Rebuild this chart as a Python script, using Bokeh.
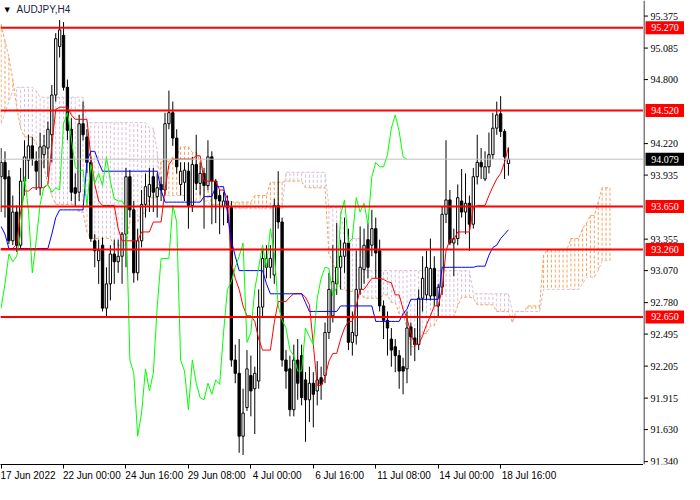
from bokeh.plotting import figure
from bokeh.layouts import row
from bokeh.models import Span, Label, FixedTicker
from bokeh.embed import file_html
from bokeh.resources import INLINE

# time axis: bar index of each label (H4 bars, weekends removed)
time_ticks = [0, 16, 32, 48, 64, 80, 96, 112, 128]
time_labels = ["17 Jun 2022", "22 Jun 00:00", "24 Jun 16:00", "29 Jun 08:00", "4 Jul 00:00",
               "6 Jul 16:00", "11 Jul 08:00", "14 Jul 00:00", "18 Jul 16:00"]
price_ticks = [91.340, 91.630, 91.915, 92.205, 92.495, 92.780, 93.070, 93.355,
               93.935, 94.220, 94.800, 95.085, 95.375]
levels = [95.270, 94.520, 93.650, 93.260, 92.650]
last_price = 94.079

opens = [
    93.92, 94.05, 93.92, 93.34, 93.60, 93.30, 93.88, 94.07, 94.20, 94.06,
    93.82, 94.12, 94.18, 94.30, 94.66, 95.10, 95.20, 94.73, 94.35, 93.82,
    93.78, 94.40, 94.28, 94.05, 93.34, 93.16, 93.30, 92.73, 92.95, 93.22,
    93.15, 93.20, 93.40, 93.92, 93.62, 93.05, 93.34, 93.67, 93.74, 93.92,
    93.74, 93.85, 93.80, 94.40, 94.50, 94.27, 93.85, 93.87, 93.97, 93.66,
    94.03, 93.86, 93.95, 93.84, 94.10, 93.88, 93.75, 93.65, 93.70, 93.64,
    92.26, 92.14, 91.57, 91.83, 92.12, 92.00, 92.07, 92.74, 93.10, 93.10,
    93.03, 93.66, 93.51, 92.26, 92.18, 91.81, 92.26, 92.30, 92.08, 91.90,
    92.05, 91.98, 92.10, 92.12, 92.51, 92.66, 92.95, 93.10, 93.20, 93.32,
    92.42, 92.48, 92.90, 93.08, 93.35, 93.30, 93.45, 93.25, 92.75, 92.62,
    92.45, 92.38, 92.30, 92.20, 92.18, 92.56, 92.46, 92.40, 92.82, 92.85,
    92.84, 93.09, 92.75, 92.92, 93.58, 93.71, 93.32, 93.36, 93.70, 93.60,
    93.68, 93.49, 93.92, 94.05, 93.90, 94.01, 94.12, 94.36, 94.49, 94.33,
    94.04]
highs = [
    94.18, 94.15, 93.98, 93.75, 93.66, 94.00, 94.25, 94.30, 94.28, 94.15,
    94.32, 94.30, 94.42, 94.75, 95.22, 95.34, 95.32, 94.80, 94.45, 93.95,
    94.48, 94.60, 94.35, 94.10, 93.40, 93.35, 93.37, 93.10, 93.30, 93.35,
    93.35, 93.42, 94.00, 93.98, 93.70, 93.45, 93.80, 93.95, 94.00, 94.00,
    93.95, 93.92, 94.50, 94.70, 94.60, 94.35, 94.05, 94.05, 94.05, 94.10,
    94.30, 94.05, 94.00, 94.25, 94.15, 93.90, 93.80, 93.78, 93.75, 93.70,
    92.40, 92.45, 92.00, 92.35, 92.30, 92.20, 92.90, 93.25, 93.30, 93.30,
    93.72, 93.97, 93.55, 92.35, 92.30, 92.40, 92.45, 92.40, 92.15, 92.20,
    92.15, 92.25, 92.20, 92.60, 93.05, 93.30, 93.50, 93.35, 93.55, 93.45,
    92.70, 93.25, 93.47, 93.45, 93.50, 93.62, 93.55, 93.35, 92.80, 92.70,
    92.55, 92.45, 92.35, 92.28, 92.70, 92.60, 92.55, 92.90, 93.20, 93.25,
    93.36, 93.20, 92.95, 93.65, 94.25, 93.80, 93.45, 93.85, 93.99, 93.95,
    93.75, 94.00, 94.30, 94.18, 94.15, 94.32, 94.50, 94.60, 94.65, 94.35,
    94.18]
lows = [
    93.60, 93.55, 93.31, 93.30, 93.24, 93.26, 93.75, 93.90, 94.02, 93.80,
    93.75, 94.00, 93.92, 94.05, 94.60, 95.00, 94.70, 94.25, 93.70, 93.65,
    93.70, 94.25, 93.95, 93.33, 93.10, 92.95, 92.70, 92.64, 92.80, 92.95,
    93.05, 92.95, 93.10, 93.55, 92.96, 92.98, 93.28, 93.55, 93.60, 93.60,
    93.55, 93.70, 93.75, 94.35, 94.20, 93.95, 93.75, 93.70, 93.45, 93.60,
    93.80, 93.75, 93.45, 93.80, 93.49, 93.50, 93.40, 93.48, 93.50, 92.20,
    92.05, 91.42, 91.40, 91.80, 91.75, 91.59, 92.00, 92.65, 93.00, 93.00,
    92.95, 93.45, 92.20, 92.00, 91.75, 91.75, 91.90, 91.85, 91.52, 91.70,
    91.65, 91.85, 91.90, 92.05, 92.45, 92.60, 92.85, 92.90, 93.05, 92.35,
    92.30, 92.40, 92.85, 92.95, 93.00, 93.20, 93.00, 92.70, 92.45, 92.30,
    92.20, 92.15, 92.00, 91.95, 92.05, 92.30, 92.25, 92.35, 92.70, 92.80,
    92.80, 92.75, 92.65, 92.85, 93.50, 93.30, 93.02, 93.30, 93.55, 93.40,
    93.25, 93.45, 93.85, 93.90, 93.88, 93.95, 94.08, 94.30, 94.28, 93.90,
    93.93]
closes = [
    94.05, 93.90, 93.34, 93.60, 93.30, 93.88, 94.10, 94.20, 94.08, 93.97,
    94.19, 94.20, 94.35, 94.66, 95.17, 95.25, 94.73, 94.34, 93.78, 93.77,
    94.40, 94.30, 94.05, 93.36, 93.25, 93.25, 92.73, 92.95, 93.22, 93.15,
    93.20, 93.40, 93.92, 93.62, 93.05, 93.34, 93.67, 93.83, 93.85, 93.78,
    93.82, 93.80, 94.40, 94.50, 94.27, 94.01, 93.97, 93.98, 93.66, 94.03,
    93.86, 93.95, 93.84, 94.10, 93.88, 93.72, 93.70, 93.70, 93.64, 92.26,
    92.14, 91.57, 91.78, 92.18, 91.98, 92.14, 92.74, 93.18, 93.18, 93.18,
    93.66, 93.51, 92.26, 92.16, 91.81, 92.26, 92.05, 91.92, 91.90, 92.05,
    91.95, 92.08, 92.04, 92.51, 92.90, 92.97, 93.10, 93.20, 93.32, 92.42,
    92.51, 92.90, 93.10, 93.30, 93.10, 93.45, 93.23, 92.75, 92.62, 92.55,
    92.35, 92.30, 92.16, 92.16, 92.55, 92.47, 92.40, 92.82, 93.00, 93.10,
    93.09, 92.84, 92.92, 93.58, 93.71, 93.32, 93.36, 93.73, 93.60, 93.68,
    93.49, 93.92, 94.05, 94.01, 94.01, 94.12, 94.36, 94.48, 94.33, 94.10,
    94.079]

# Ichimoku lines
tenkan = [
    93.27, 93.27, 93.27, 93.27, 93.31, 93.60, 93.79, 93.79, 93.82, 93.82,
    93.82, 93.82, 93.85, 94.20, 94.53, 94.55, 94.55, 94.55, 94.48, 94.44,
    94.44, 94.44, 94.44, 94.10, 93.85, 93.70, 93.66, 93.66, 93.66, 93.66,
    93.45, 93.34, 93.34, 93.34, 93.34, 93.34, 93.42, 93.42, 93.42, 93.51,
    93.51, 93.51, 93.80, 94.03, 94.08, 94.08, 94.08, 94.08, 94.08, 94.08,
    94.11, 94.11, 93.88, 93.88, 93.88, 93.88, 93.80, 93.80, 93.72, 93.14,
    93.00, 92.90, 92.75, 92.66, 92.66, 92.61, 92.45, 92.35, 92.35, 92.35,
    92.60, 92.79, 92.79, 92.79, 92.83, 92.86, 92.86, 92.86, 92.83, 92.76,
    92.40, 92.03, 92.03, 92.10, 92.25, 92.32, 92.32, 92.45, 92.55, 92.61,
    92.61, 92.75, 92.90, 92.90, 92.95, 93.00, 93.00, 93.00, 92.99, 92.97,
    92.96, 92.85, 92.85, 92.72, 92.64, 92.50, 92.40, 92.40, 92.48, 92.58,
    92.66, 92.75, 92.75, 92.90, 93.25, 93.35, 93.35, 93.42, 93.42, 93.42,
    93.42, 93.64, 93.66, 93.66, 93.66, 93.75, 93.83, 93.90, 93.95, 94.05,
    94.19]
kijun = [
    93.47, 93.40, 93.27, 93.27, 93.27, 93.27, 93.27, 93.27, 93.27, 93.27,
    93.27, 93.27, 93.27, 93.40, 93.55, 93.62, 93.62, 93.62, 93.62, 93.62,
    93.62, 93.62, 94.06, 94.15, 94.15, 94.05, 93.97, 93.97, 93.97, 93.97,
    93.97, 93.97, 93.97, 93.97, 93.97, 93.97, 93.97, 93.97, 93.97, 93.97,
    93.97, 93.80, 93.69, 93.69, 93.69, 93.69, 93.69, 93.69, 93.69, 93.69,
    93.69, 93.69, 93.74, 93.74, 93.74, 93.83, 93.83, 93.83, 93.60, 93.34,
    93.20, 93.07, 93.07, 93.07, 93.07, 93.07, 93.07, 93.07, 92.95, 92.86,
    92.86, 92.86, 92.86, 92.86, 92.86, 92.86, 92.86, 92.86, 92.78, 92.70,
    92.70, 92.70, 92.70, 92.70, 92.70, 92.70, 92.70, 92.75, 92.75, 92.75,
    92.75, 92.75, 92.75, 92.75, 92.75, 92.75, 92.61, 92.61, 92.61, 92.61,
    92.61, 92.61, 92.61, 92.68, 92.72, 92.81, 92.81, 92.81, 92.81, 92.81,
    92.81, 92.81, 92.81, 93.10, 93.10, 93.10, 93.10, 93.10, 93.10, 93.10,
    93.10, 93.10, 93.11, 93.11, 93.11, 93.21, 93.28, 93.30, 93.36, 93.40,
    93.44]
span_a = [
    95.30, 95.15, 95.00, 94.80, 94.55, 94.36, 94.28, 94.28, 94.28, 94.22,
    94.15, 94.00, 93.85, 93.75, 93.67, 93.67, 93.67, 93.67, 93.67, 93.67,
    93.60, 93.60, 93.42, 93.36, 93.36, 93.36, 93.36, 93.36, 93.36, 93.30,
    93.30, 93.30, 93.30, 93.51, 93.51, 93.51, 93.59, 93.59, 93.73, 93.73,
    93.73, 94.06, 94.06, 94.06, 94.10, 94.10, 94.19, 94.19, 94.19, 94.14,
    94.14, 94.06, 93.95, 93.80, 93.67, 93.67, 93.67, 93.67, 93.67, 93.69,
    93.69, 93.69, 93.69, 93.69, 93.69, 93.75, 93.75, 93.75, 93.75, 93.87,
    93.87, 93.87, 93.87, 93.88, 93.88, 93.88, 93.88, 93.88, 93.82, 93.82,
    93.82, 93.82, 93.82, 93.82, 93.22, 93.15, 93.00, 92.90, 92.90, 92.88,
    92.88, 92.88, 92.88, 92.82, 92.82, 92.82, 92.82, 92.82, 92.85, 92.85,
    92.78, 92.78, 92.68, 92.68, 92.55, 92.38, 92.38, 92.45, 92.50, 92.50,
    92.57, 92.57, 92.65, 92.65, 92.65, 92.65, 92.65, 92.75, 92.83, 92.83,
    92.83, 92.82, 92.76, 92.76, 92.76, 92.76, 92.76, 92.70, 92.70, 92.70,
    92.70, 92.60, 92.70, 92.70, 92.70, 92.75, 92.75, 92.75, 92.75, 93.21,
    93.26, 93.26, 93.26, 93.26, 93.26, 93.26, 93.36, 93.36, 93.36, 93.45,
    93.50, 93.57, 93.57, 93.69, 93.82, 93.82, 93.82]
span_b = [
    94.40, 94.50, 94.60, 94.70, 94.73, 94.73, 94.73, 94.73, 94.73, 94.70,
    94.64, 94.64, 94.64, 94.64, 94.64, 94.64, 94.64, 94.64, 94.64, 94.64,
    94.64, 94.64, 94.41, 94.41, 94.41, 94.41, 94.41, 94.41, 94.41, 94.41,
    94.41, 94.41, 94.41, 94.41, 94.41, 94.41, 94.41, 94.41, 94.36, 94.36,
    94.15, 93.75, 93.75, 93.75, 93.75, 93.75, 93.75, 93.75, 93.75, 93.70,
    93.70, 93.70, 93.70, 93.70, 93.63, 93.63, 93.63, 93.63, 93.63, 93.63,
    93.63, 93.63, 93.63, 93.63, 93.63, 93.63, 93.63, 93.63, 93.63, 93.63,
    93.63, 93.63, 93.63, 93.96, 93.96, 93.96, 93.96, 93.96, 93.96, 93.96,
    93.96, 93.96, 93.96, 93.96, 93.64, 93.64, 93.64, 93.64, 93.36, 93.36,
    93.36, 93.36, 93.36, 93.07, 93.07, 93.07, 93.07, 93.07, 93.07, 93.07,
    93.07, 93.07, 93.07, 93.07, 93.07, 93.07, 93.07, 93.07, 93.07, 93.07,
    93.07, 93.07, 93.07, 93.07, 93.07, 93.07, 93.07, 93.07, 93.07, 93.07,
    93.07, 92.86, 92.86, 92.86, 92.86, 92.86, 92.86, 92.86, 92.86, 92.86,
    92.86, 92.70, 92.70, 92.70, 92.70, 92.70, 92.70, 92.70, 92.70, 92.90,
    92.90, 92.90, 92.90, 92.90, 92.90, 92.90, 92.90, 92.90, 92.90, 92.95,
    93.01, 93.01, 93.01, 93.07, 93.16, 93.16, 93.16]

FONT = "Liberation Sans"
SANDY = "#F4A460"
THISTLE = "#D8BFD8"
X0, X1 = -0.15, 164.6
Y0, Y1 = 91.314, 95.516
MAIN_W, SIDE_W, H, BOTTOM = 643, 41, 484, 20

p = figure(width=MAIN_W, height=H, x_range=(X0, X1), y_range=(Y0, Y1),
           y_axis_location=None, output_backend="svg", toolbar_location=None,
           min_border_left=0, min_border_top=0, min_border_right=0, min_border_bottom=BOTTOM)
p.background_fill_color = "white"
p.border_fill_color = "white"
p.outline_line_color = None
p.xgrid.visible = False
p.ygrid.visible = False

# Ichimoku cloud: dashed columns between span A and span B
cb = list(range(len(span_a)))
cloud_colors = [SANDY if a >= b else THISTLE for a, b in zip(span_a, span_b)]
p.segment(x0=cb, y0=span_a, x1=cb, y1=span_b, line_color=cloud_colors,
          line_dash="3 2", line_width=1)
p.line(cb, span_a, line_color=SANDY, line_dash="3 2", line_width=1)
p.line(cb, span_b, line_color=THISTLE, line_dash="3 2", line_width=1)

# candles
bars = list(range(len(closes)))
p.segment(x0=bars, y0=highs, x1=bars, y1=lows, line_color="black", line_width=1)
up = [i for i in bars if closes[i] >= opens[i]]
dn = [i for i in bars if closes[i] < opens[i]]
p.vbar(x=up, width=0.6, top=[closes[i] for i in up], bottom=[opens[i] for i in up],
       fill_color="white", line_color="black", line_width=1)
p.vbar(x=dn, width=0.6, top=[opens[i] for i in dn], bottom=[closes[i] for i in dn],
       fill_color="black", line_color="black", line_width=1)

# tenkan, kijun, chikou (close shifted 26 bars back)
p.line(bars, tenkan, line_color="#FF0000", line_width=1)
p.line(bars, kijun, line_color="#0000FF", line_width=1)
p.line(bars[:len(closes) - 26], closes[26:], line_color="#00FF00", line_width=1)

# levels and current price
p.add_layout(Span(location=last_price, dimension="width", line_color="#C0C0C0", line_width=1))
for lv in levels:
    p.add_layout(Span(location=lv, dimension="width", line_color="#FF0000", line_width=2))

# symbol caption
p.add_layout(Label(x=X0, y=Y1, x_offset=4, y_offset=-5, text="\u25bc", text_font="DejaVu Sans",
                   text_font_size="7px", text_color="black", text_baseline="top"))
p.add_layout(Label(x=X0, y=Y1, x_offset=16, y_offset=-3, text="AUDJPY,H4", text_font=FONT,
                   text_font_size="10px", text_color="#1c1c48", text_baseline="top"))

# time axis: real tick marks as minor ticks, labels shifted to start at the tick
px_per_bar = MAIN_W / (X1 - X0)
label_pos = [round((t + (2 + 4.4 * len(s) / 2) / px_per_bar) * 4) / 4
             for t, s in zip(time_ticks, time_labels)]
p.xaxis.ticker = FixedTicker(ticks=label_pos, minor_ticks=time_ticks)
p.xaxis.major_label_overrides = {pos: s for pos, s in zip(label_pos, time_labels)}
p.xaxis.axis_line_color = "black"
p.xaxis.major_tick_line_color = None
p.xaxis.major_tick_out = 4
p.xaxis.major_tick_in = 0
p.xaxis.minor_tick_line_color = "black"
p.xaxis.minor_tick_out = 4
p.xaxis.minor_tick_in = 0
p.xaxis.major_label_standoff = 1
p.xaxis.major_label_text_font = FONT
p.xaxis.major_label_text_font_size = "10px"
p.xaxis.major_label_text_color = "black"

# price scale strip on the right, sharing the price range (x in pixels)
s = figure(width=SIDE_W, height=H, x_range=(0, SIDE_W), y_range=p.y_range,
           x_axis_location=None, y_axis_location=None, output_backend="svg",
           toolbar_location=None, min_border_left=0, min_border_top=0,
           min_border_right=0, min_border_bottom=BOTTOM)
s.background_fill_color = "white"
s.border_fill_color = "white"
s.outline_line_color = None
s.xgrid.visible = False
s.ygrid.visible = False
s.add_layout(Span(location=0.5, dimension="height", line_color="black", line_width=1))
s.segment(x0=0.5, y0=price_ticks, x1=4.5, y1=price_ticks, line_color="black", line_width=1)
s.text(x=7, y=price_ticks, text=[f"{t:.3f}" for t in price_ticks], text_font=FONT,
       text_font_size="10px", text_color="black", text_baseline="middle")
s.rect(x=21.5, y=levels, width=39, height=13, height_units="screen",
       fill_color="#FF0000", line_color=None)
s.text(x=21.5, y=levels, text=[f"{lv:.3f}" for lv in levels], text_font=FONT,
       text_font_size="10px", text_color="white", text_align="center", text_baseline="middle")
s.rect(x=21.5, y=[last_price], width=39, height=13, height_units="screen",
       fill_color="black", line_color=None)
s.text(x=21.5, y=[last_price], text=[f"{last_price:.3f}"], text_font=FONT,
       text_font_size="10px", text_color="white", text_align="center", text_baseline="middle")

open("out.html", "w").write(file_html(row(p, s), INLINE))
